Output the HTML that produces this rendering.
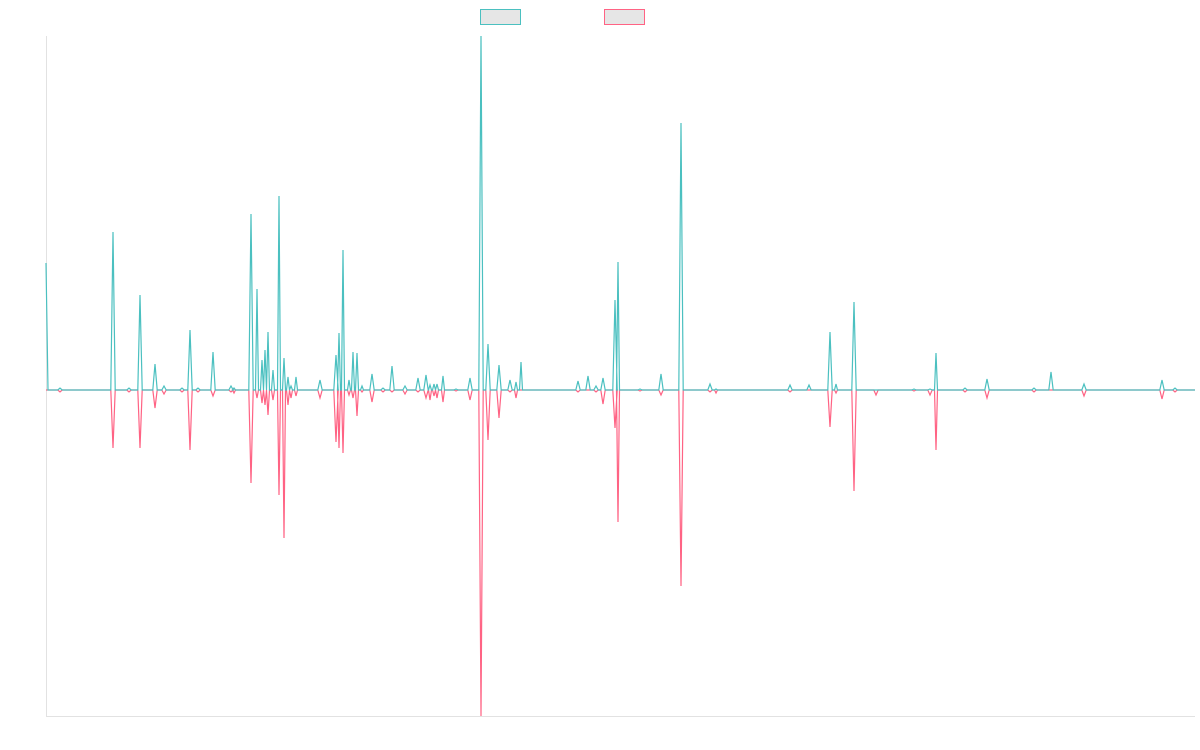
<!DOCTYPE html>
<html><head><meta charset="utf-8"><style>
html,body{margin:0;padding:0;background:#fff;width:1200px;height:750px;overflow:hidden}
</style></head><body>
<svg id="c" width="1200" height="750" xmlns="http://www.w3.org/2000/svg">
<rect x="480.5" y="9.5" width="40" height="15" fill="#e6e6e6" stroke="rgb(75,192,192)" stroke-width="1"/>
<rect x="604.5" y="9.5" width="40" height="15" fill="#e6e6e6" stroke="rgb(255,99,132)" stroke-width="1"/>
<line x1="46.5" y1="36" x2="46.5" y2="716" stroke="#e2e2e2"/>
<line x1="46" y1="716.5" x2="1195" y2="716.5" stroke="#e2e2e2"/>
<polyline id="p" fill="none" stroke="rgb(255,99,132)" stroke-width="1.2"/>
<polyline id="t" fill="none" stroke="rgb(75,192,192)" stroke-width="1.2"/>
</svg>
<script>
var s=[[46,263,390],[60,388,392],[113,232,448],[129,388,392],[140,295,448],[155,364,408],[164,386,394],[182,388,392],[190,330,450],[198,388,392],[213,352,396],[231,386,392],[234,388,393],[251,214,483],[257,289,398],[262,360,403],[265,350,405],[268,332,415],[273,370,400],[279,196,495],[284,358,538],[288,377,405],[291,386,398],[296,377,396],[320,380,398],[336,355,442],[339,333,448],[343,250,453],[349,380,395],[353,352,398],[357,353,416],[362,386,392],[372,374,402],[383,388,392],[392,366,392],[405,386,394],[418,378,392],[426,375,398],[430,385,400],[434,384,396],[437,384,398],[443,376,402],[456,389,391],[470,378,400],[481,36,716],[488,344,440],[499,365,418],[510,380,392],[516,382,398],[521,362,390],[578,381,392],[588,376,390],[596,386,392],[603,378,404],[615,300,428],[618,262,522],[640,389,391],[661,374,395],[681,123,586],[710,384,392],[716,389,393],[790,385,392],[809,385,390],[830,332,427],[836,384,393],[854,302,491],[876,390,395],[914,389,391],[930,389,395],[936,353,450],[965,388,392],[987,379,398],[1034,388,392],[1051,372,390],[1084,384,396],[1162,380,399],[1175,388,392]];
function build(i){var pts=["46,"+s[0][i],"48,390"];var last=48;
for(var k=1;k<s.length;k++){var x=s[k][0],w=(x-last>6)?2.2:1.5;pts.push((x-w)+",390",x+","+s[k][i],(x+w)+",390");last=x;}
pts.push("1195,390");return pts.join(" ");}
document.getElementById("t").setAttribute("points",build(1));
document.getElementById("p").setAttribute("points",build(2));
</script>
</body></html>
